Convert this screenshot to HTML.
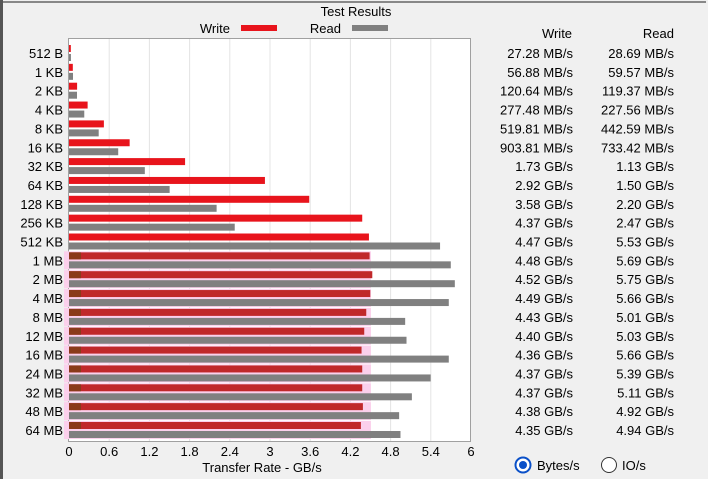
<!DOCTYPE html>
<html><head><meta charset="utf-8"><style>
body{margin:0;background:#f0f0f0;width:708px;height:479px;overflow:hidden;font-family:"Liberation Sans",Arial,sans-serif}
svg{display:block}
</style></head><body>
<svg id="s" width="708" height="479" xmlns="http://www.w3.org/2000/svg" font-family="Liberation Sans, Arial, sans-serif" font-size="13" fill="#000">
<rect x="0" y="0" width="708" height="479" fill="#f0f0f0"/>
<rect x="0" y="0" width="3" height="479" fill="#555"/>
<line x1="3" y1="2" x2="706" y2="2" stroke="#888" stroke-width="2"/>
<text x="356" y="16" text-anchor="middle">Test Results</text>
<text x="230" y="33" text-anchor="end">Write</text>
<rect x="241" y="25" width="36" height="6" fill="#e8141c"/>
<text x="341" y="33" text-anchor="end">Read</text>
<rect x="352" y="25" width="36" height="6" fill="#808080"/>
<rect x="68.5" y="38.5" width="402" height="403" fill="#fff" stroke="#a0a0a0"/>
<g id="g"></g>
<text x="557" y="38" text-anchor="middle">Write</text>
<text x="674" y="38" text-anchor="end">Read</text>
<text x="262" y="472" text-anchor="middle">Transfer Rate - GB/s</text>
<circle cx="523" cy="465" r="7.5" fill="#fff" stroke="#0a50c8" stroke-width="2"/>
<circle cx="523" cy="465" r="4" fill="#0a50c8"/>
<text x="537" y="470">Bytes/s</text>
<circle cx="609" cy="465" r="7.5" fill="#fff" stroke="#333" stroke-width="1"/>
<text x="622" y="470">IO/s</text>
</svg>
<script>
var labels=["512 B","1 KB","2 KB","4 KB","8 KB","16 KB","32 KB","64 KB","128 KB","256 KB","512 KB","1 MB","2 MB","4 MB","8 MB","12 MB","16 MB","24 MB","32 MB","48 MB","64 MB"];
var w=[.02728,.05688,.12064,.27748,.51981,.90381,1.73,2.92,3.58,4.37,4.47,4.48,4.52,4.49,4.43,4.40,4.36,4.37,4.37,4.38,4.35];
var r=[.02869,.05957,.11937,.22756,.44259,.73342,1.13,1.50,2.20,2.47,5.53,5.69,5.75,5.66,5.01,5.03,5.66,5.39,5.11,4.92,4.94];
var ws=["27.28 MB/s","56.88 MB/s","120.64 MB/s","277.48 MB/s","519.81 MB/s","903.81 MB/s","1.73 GB/s","2.92 GB/s","3.58 GB/s","4.37 GB/s","4.47 GB/s","4.48 GB/s","4.52 GB/s","4.49 GB/s","4.43 GB/s","4.40 GB/s","4.36 GB/s","4.37 GB/s","4.37 GB/s","4.38 GB/s","4.35 GB/s"];
var rs=["28.69 MB/s","59.57 MB/s","119.37 MB/s","227.56 MB/s","442.59 MB/s","733.42 MB/s","1.13 GB/s","1.50 GB/s","2.20 GB/s","2.47 GB/s","5.53 GB/s","5.69 GB/s","5.75 GB/s","5.66 GB/s","5.01 GB/s","5.03 GB/s","5.66 GB/s","5.39 GB/s","5.11 GB/s","4.92 GB/s","4.94 GB/s"];
var h="",x0=69,k=67.1;
for(var i=1;i<10;i++){var gx=x0+i*40.2;h+='<line x1="'+gx+'" y1="39" x2="'+gx+'" y2="441" stroke="#e4e4e4"/>';}
var t=["0","0.6","1.2","1.8","2.4","3","3.6","4.2","4.8","5.4","6"];
for(var i=0;i<11;i++)h+='<text x="'+(x0+i*40.2)+'" y="456" text-anchor="middle">'+t[i]+'</text>';
for(var i=0;i<21;i++){
 var c=53+i*18.85;
 if(i>=11){h+='<rect x="64" y="'+(c-9)+'" width="'+(x0+4.5*k-64)+'" height="18" fill="#fbd0ec"/>';}
 var wc=i>=11?"#c0282a":"#e8141c";
 h+='<rect x="'+x0+'" y="'+(c-8)+'" width="'+Math.max(1,w[i]*k)+'" height="7" fill="'+wc+'"/>';
 if(i>=11)h+='<rect x="'+x0+'" y="'+(c-8)+'" width="12" height="7" fill="#8a3a1a"/>';
 h+='<rect x="'+x0+'" y="'+(c+1)+'" width="'+Math.max(1,r[i]*k)+'" height="7" fill="#808080"/>';
 h+='<text x="63" y="'+(c+5)+'" text-anchor="end">'+labels[i]+'</text>';
 h+='<text x="573" y="'+(c+5)+'" text-anchor="end">'+ws[i]+'</text>';
 h+='<text x="674" y="'+(c+5)+'" text-anchor="end">'+rs[i]+'</text>';
}
document.getElementById("g").innerHTML=h;
</script>
</body></html>
